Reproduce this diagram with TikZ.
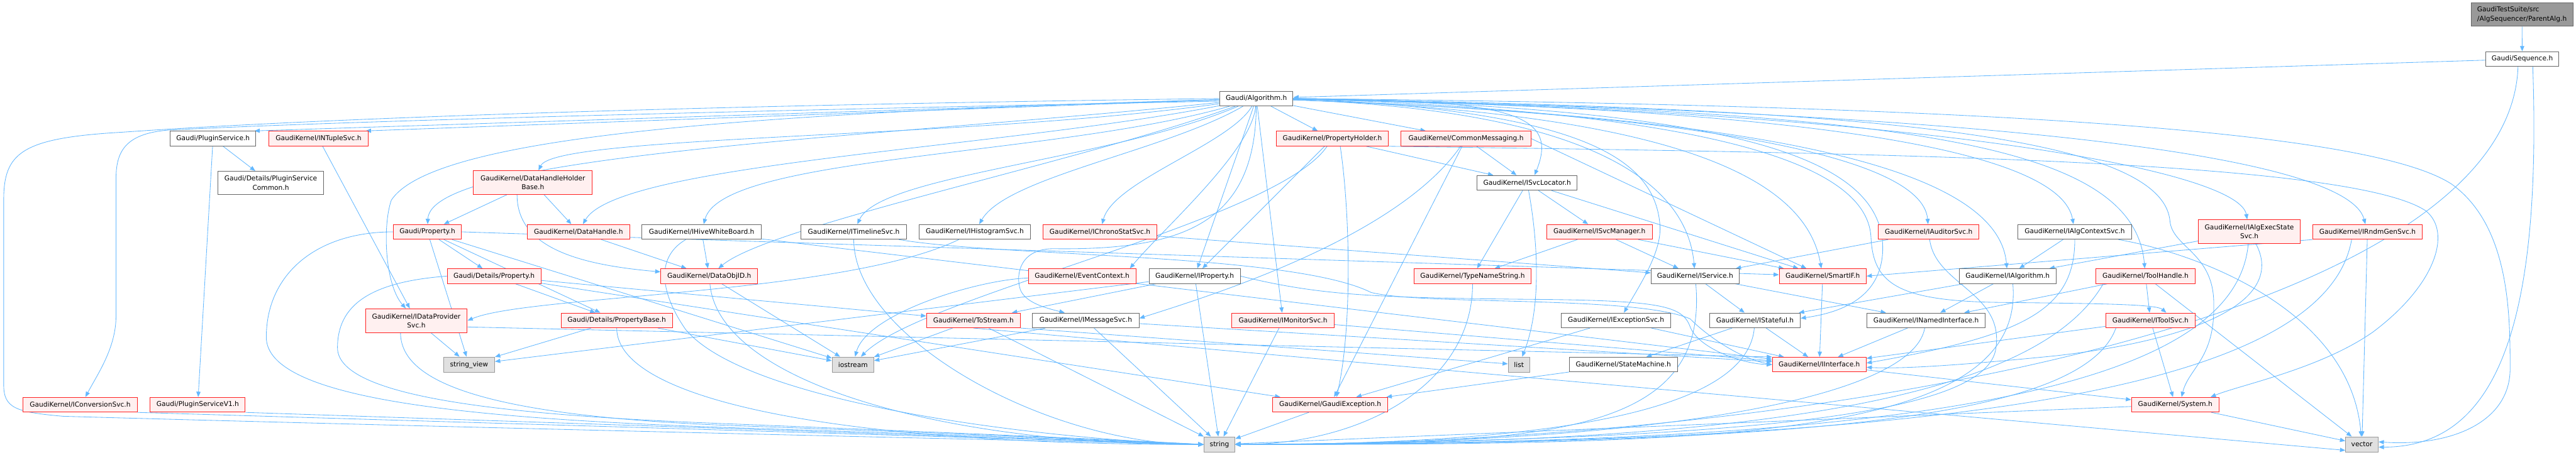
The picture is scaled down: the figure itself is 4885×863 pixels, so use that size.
\documentclass[tikz,border=0pt]{standalone}
\usepackage{fontspec}
\setmainfont{DejaVu Sans}
\usetikzlibrary{arrows.meta,backgrounds}
\definecolor{cEdge}{HTML}{63B8FF}
\definecolor{cRedB}{HTML}{FF2020}
\definecolor{cRedF}{HTML}{FFF0F0}
\definecolor{cGrayB}{HTML}{666666}
\definecolor{cLeafB}{HTML}{999999}
\definecolor{cLeafF}{HTML}{E0E0E0}
\definecolor{cRoot}{HTML}{999999}
\begin{document}
\begin{tikzpicture}[x=1pt,y=1pt,
  gbox/.style={rectangle,inner sep=0pt,minimum height=28pt,line width=1.2pt,font=\fontsize{12.7pt}{17pt}\selectfont,text=black},
  redbox/.style={gbox,draw=cRedB,fill=cRedF},
  whitebox/.style={gbox,draw=cGrayB,fill=white},
  leafbox/.style={gbox,draw=cLeafB,fill=cLeafF,minimum height=29pt},
  rootbox/.style={gbox,draw=cGrayB,fill=cRoot},
  inc/.style={draw=cEdge,line width=1pt,-{Triangle[length=10pt,width=8pt]}}]
\useasboundingbox (0,0) rectangle (4885,-863);
% ---------- nodes ----------
\node[rootbox,minimum width=193pt,minimum height=45pt,align=left] (parent) at (4782.5,-27.5) {GaudiTestSuite/src\\/AlgSequencer/ParentAlg.h};
\node[whitebox,minimum width=138pt] (seq) at (4783,-112) {Gaudi/Sequence.h};
\node[whitebox,minimum width=139pt] (alg) at (2382.5,-187) {Gaudi/Algorithm.h};
\node[whitebox,minimum width=162pt] (plugin) at (404,-263) {Gaudi/PluginService.h};
\node[redbox,minimum width=188pt] (ntuple) at (604,-263) {GaudiKernel/INTupleSvc.h};
\node[redbox,minimum width=213pt] (propholder) at (2526.5,-263) {GaudiKernel/PropertyHolder.h};
\node[redbox,minimum width=246pt] (commsg) at (2780,-263) {GaudiKernel/CommonMessaging.h};
\node[whitebox,minimum width=201pt,minimum height=44pt,align=center] (plugcommon) at (513.5,-347) {Gaudi/Details/PluginService\\Common.h};
\node[redbox,minimum width=225pt,minimum height=45pt,align=center] (dhhb) at (1010.5,-346.5) {GaudiKernel/DataHandleHolder\\Base.h};
\node[whitebox,minimum width=190pt] (svcloc) at (2896,-347) {GaudiKernel/ISvcLocator.h};
\node[redbox,minimum width=129pt] (gprop) at (810.5,-440) {Gaudi/Property.h};
\node[redbox,minimum width=194pt] (dhandle) at (1097,-440) {GaudiKernel/DataHandle.h};
\node[whitebox,minimum width=227pt] (hive) at (1330.5,-440) {GaudiKernel/IHiveWhiteBoard.h};
\node[whitebox,minimum width=200pt] (timeline) at (1619,-440) {GaudiKernel/ITimelineSvc.h};
\node[whitebox,minimum width=211pt] (histo) at (1848.5,-440) {GaudiKernel/IHistogramSvc.h};
\node[redbox,minimum width=216pt] (chrono) at (2086,-440) {GaudiKernel/IChronoStatSvc.h};
\node[redbox,minimum width=200pt] (svcmgr) at (3033,-440) {GaudiKernel/ISvcManager.h};
\node[redbox,minimum width=191pt] (auditor) at (3657.5,-440) {GaudiKernel/IAuditorSvc.h};
\node[whitebox,minimum width=215pt] (algctx) at (3934.5,-440) {GaudiKernel/IAlgContextSvc.h};
\node[redbox,minimum width=193pt,minimum height=45pt,align=center] (execst) at (4265.5,-439.5) {GaudiKernel/IAlgExecState\\Svc.h};
\node[redbox,minimum width=207pt] (rndm) at (4489.5,-440) {GaudiKernel/IRndmGenSvc.h};
\node[redbox,minimum width=178pt] (dprop) at (937,-524) {Gaudi/Details/Property.h};
\node[redbox,minimum width=184pt] (dobjid) at (1345,-524) {GaudiKernel/DataObjID.h};
\node[redbox,minimum width=204pt] (evctx) at (2052,-524) {GaudiKernel/EventContext.h};
\node[whitebox,minimum width=173pt] (iprop) at (2265.5,-524) {GaudiKernel/IProperty.h};
\node[redbox,minimum width=223pt] (tns) at (2792.5,-524) {GaudiKernel/TypeNameString.h};
\node[whitebox,minimum width=167pt] (isvc) at (3214.5,-524) {GaudiKernel/IService.h};
\node[redbox,minimum width=165pt] (smartif) at (3456.5,-524) {GaudiKernel/SmartIF.h};
\node[whitebox,minimum width=184pt] (ialg) at (3807,-524) {GaudiKernel/IAlgorithm.h};
\node[redbox,minimum width=189pt] (toolh) at (4068.5,-524) {GaudiKernel/ToolHandle.h};
\node[redbox,minimum width=193pt,minimum height=45pt,align=center] (dps) at (789.5,-608.5) {GaudiKernel/IDataProvider\\Svc.h};
\node[redbox,minimum width=211pt] (pbase) at (1169.5,-608) {Gaudi/Details/PropertyBase.h};
\node[redbox,minimum width=178pt] (tostream) at (1846,-608) {GaudiKernel/ToStream.h};
\node[whitebox,minimum width=202pt] (msgsvc) at (2059,-608) {GaudiKernel/IMessageSvc.h};
\node[redbox,minimum width=194pt] (monitor) at (2433,-608) {GaudiKernel/IMonitorSvc.h};
\node[whitebox,minimum width=207pt] (excsvc) at (3064.5,-608) {GaudiKernel/IExceptionSvc.h};
\node[whitebox,minimum width=172pt] (istateful) at (3328,-608) {GaudiKernel/IStateful.h};
\node[whitebox,minimum width=225pt] (inamed) at (3652.5,-608) {GaudiKernel/INamedInterface.h};
\node[redbox,minimum width=170pt] (itoolsvc) at (4078,-608) {GaudiKernel/IToolSvc.h};
\node[leafbox,minimum width=97pt] (sview) at (889.5,-692) {string\_view};
\node[leafbox,minimum width=79pt] (iostream) at (1617.5,-692) {iostream};
\node[leafbox,minimum width=41pt] (list) at (2880.5,-692) {list};
\node[whitebox,minimum width=205pt] (statem) at (3078.5,-692) {GaudiKernel/StateMachine.h};
\node[redbox,minimum width=178pt] (iinterface) at (3450,-692) {GaudiKernel/IInterface.h};
\node[redbox,minimum width=216pt] (convsvc) at (152,-768) {GaudiKernel/IConversionSvc.h};
\node[redbox,minimum width=180pt] (plugv1) at (375,-768) {Gaudi/PluginServiceV1.h};
\node[redbox,minimum width=219pt] (gexc) at (2522.5,-768) {GaudiKernel/GaudiException.h};
\node[redbox,minimum width=166pt] (system) at (4125,-768) {GaudiKernel/System.h};
\node[leafbox,minimum width=59pt] (string) at (2312.5,-843.5) {string};
\node[leafbox,minimum width=62pt] (vector) at (4479,-843.5) {vector};
% ---------- edges ----------
\begin{pgfonlayer}{background}
\fill[white] (0,0) rectangle (4885,-863);
\draw[inc] (parent) -- (seq);
\draw[inc] (seq) -- (alg);
\draw[inc] ([xshift=-8pt]seq.south) .. controls +(-92:480) and +(0:1100) .. (string.east);
\draw[inc] ([xshift=20pt]seq.south) .. controls +(-88:500) and +(0:220) .. ([yshift=-5pt]vector.east);
% Algorithm -> left
\draw[inc] (alg) -- ([xshift=-3pt]plugin.north east);
\draw[inc] (alg) -- ([xshift=-5pt]ntuple.north east);
\draw[inc] (alg.west) .. controls (1300,-200) and (600,-225) .. (230,-251) .. controls (40,-262) and (7,-290) .. (7,-380) -- (7,-730) .. controls (7,-775) and (30,-782) .. (120,-790) .. controls (900,-812) and (1900,-835) .. (string.west);
\draw[inc] ([yshift=-5pt]alg.west) .. controls (1300,-212) and (600,-232) .. (318,-247) .. controls (235,-254) and (220,-290) .. (220,-340) -- (220,-600) .. controls (220,-660) and (185,-710) .. ([xshift=10pt]convsvc.north);
\draw[inc] (alg) .. controls +(188:550) and +(65:100) .. (dhhb);
\draw[inc] (alg) .. controls +(186:700) and +(88:150) .. (gprop);
\draw[inc] (alg) .. controls (1400,-215) and (820,-260) .. (742,-380) .. controls (725,-430) and (730,-540) .. ([xshift=-20pt]dps.north);
\draw[inc] (alg) .. controls +(191:500) and +(60:150) .. (dhandle);
\draw[inc] (alg) .. controls +(196:400) and +(75:150) .. (hive);
\draw[inc] (alg) .. controls +(200:350) and +(40:150) .. (dobjid);
\draw[inc] (alg) .. controls +(203:300) and +(65:120) .. (timeline);
\draw[inc] (alg) .. controls +(210:200) and +(60:120) .. (histo);
\draw[inc] (alg) .. controls +(240:100) and +(75:100) .. (chrono);
\draw[inc] (alg) .. controls +(265:100) and +(50:100) .. ([xshift=-12pt]evctx.north east);
\draw[inc] (alg) .. controls (2380,-420) and (2250,-475) .. (2000,-472) .. controls (1935,-471) and (1925,-520) .. (1935,-550) .. controls (1945,-575) and (1985,-585) .. ([xshift=-40pt]msgsvc.north);
\draw[inc] (alg) -- (iprop);
\draw[inc] (alg) -- (monitor);
\draw[inc] (alg) -- (propholder);
\draw[inc] (alg) -- (commsg);
% Algorithm -> right
\draw[inc] (alg.east) .. controls (2850,-190) and (2960,-210) .. ([xshift=14pt]svcloc.north);
\draw[inc] (alg) .. controls +(-2:650) and +(95:170) .. (isvc);
\draw[inc] (alg) .. controls +(-2:850) and +(100:170) .. (smartif);
\draw[inc] (alg.east) .. controls (3300,-205) and (3580,-300) .. (3570,-480) .. controls (3565,-560) and (3500,-592) .. ([yshift=4pt]istateful.east);
\draw[inc] (alg.east) .. controls (3000,-210) and (3140,-300) .. (3148,-430) .. controls (3150,-480) and (3110,-540) .. ([xshift=15pt]excsvc.north);
\draw[inc] (alg) .. controls +(-2:800) and +(95:150) .. (auditor);
\draw[inc] (alg) .. controls +(-2:1000) and +(95:200) .. (ialg);
\draw[inc] (alg) .. controls +(-1:1100) and +(100:150) .. (algctx);
\draw[inc] (alg) .. controls +(-1:1250) and +(95:250) .. (toolh);
\draw[inc] (alg.east) .. controls (3200,-210) and (3540,-300) .. (3548,-450) .. controls (3552,-540) and (3600,-572) .. (3800,-574) .. controls (4000,-576) and (4090,-578) .. ([xshift=30pt]itoolsvc.north);
\draw[inc] (alg) .. controls +(-1:1250) and +(100:120) .. (execst);
\draw[inc] (alg) .. controls +(-1:1400) and +(105:150) .. (rndm);
\draw[inc] (alg.east) .. controls (3500,-205) and (4100,-250) .. (4115,-420) .. controls (4120,-470) and (4200,-480) .. (4198,-580) .. controls (4200,-680) and (4150,-700) .. ([xshift=12pt]system.north);
\draw[inc] (alg.east) .. controls (3800,-200) and (4500,-250) .. (4650,-350) .. controls (4760,-430) and (4760,-600) .. (4760,-700) .. controls (4760,-800) and (4650,-848) .. ([yshift=5pt]vector.east);
% left part
\draw[inc] (plugin) -- (plugcommon);
\draw[inc] (plugin) -- (plugv1);
\draw[inc] (plugv1.south east) -- (string.west);
\draw[inc] (convsvc.south east) -- (string.west);
\draw[inc] (ntuple) -- (dps);
\draw[inc] (dps) -- (sview);
\draw[inc] ([xshift=-30pt]dps.south) .. controls (760,-720) and (900,-790) .. (1400,-808) .. controls (1900,-826) and (2150,-837) .. (string.west);
\draw[inc] ([yshift=-12pt]dps.east) -- (iinterface.north west);
\draw[inc] (dhhb) -- (gprop);
\draw[inc] (dhhb) -- (dhandle);
\draw[inc] ([xshift=-30pt]dhhb.south) .. controls +(-90:100) and +(175:250) .. (dobjid);
\draw[inc] (gprop) -- (dprop);
\draw[inc] (gprop) -- (pbase);
\draw[inc] (gprop) -- (sview);
\draw[inc] (gprop) -- (iostream);
\draw[inc] (gprop.east) -- (smartif);
\draw[inc] (gprop.west) .. controls (600,-440) and (505,-520) .. (505,-640) .. controls (505,-760) and (900,-795) .. (1400,-812) .. controls (1900,-828) and (2150,-838) .. (string.west);
\draw[inc] (dprop) -- (pbase);
\draw[inc] (dprop) -- (tostream);
\draw[inc] (dprop) -- (gexc);
\draw[inc] (dprop.west) .. controls (700,-535) and (640,-580) .. (640,-660) .. controls (640,-760) and (1000,-790) .. (1400,-805) .. controls (1900,-825) and (2150,-836) .. (string.west);
\draw[inc] (pbase) -- (sview);
\draw[inc] (pbase) -- (iostream);
\draw[inc] (pbase) .. controls +(-90:150) and +(180:700) .. (string.west);
\draw[inc] (dhandle) -- (dobjid);
\draw[inc] (hive) -- (dobjid);
\draw[inc] (hive) -- (iinterface);
\draw[inc] ([xshift=-30pt]hive.south) .. controls (1240,-490) and (1255,-560) .. (1300,-625) .. controls (1420,-770) and (2000,-835) .. (string.west);
\draw[inc] (timeline) .. controls +(-90:200) and +(180:300) .. (string.west);
\draw[inc] (timeline) .. controls (1900,-488) and (2450,-480) .. (2600,-555) .. controls (2700,-580) and (3100,-560) .. (3205,-605) .. controls (3240,-640) and (3300,-680) .. (iinterface.west);
\draw[inc] (histo) .. controls (1600,-560) and (1000,-560) .. (dps.east);
\draw[inc] (chrono) -- (isvc);
\draw[inc] (dobjid) -- (iostream);
\draw[inc] (dobjid) .. controls +(-85:200) and +(180:500) .. (string.west);
\draw[inc] (evctx) .. controls +(182:200) and +(75:100) .. (iostream);
\draw[inc] (iprop) -- (tostream);
\draw[inc] (iprop) -- (sview);
\draw[inc] (iprop) -- (string);
\draw[inc] (iprop.east) .. controls (2500,-560) and (2600,-565) .. (2900,-568) .. controls (3150,-570) and (3190,-580) .. (3205,-620) .. controls (3220,-660) and (3300,-690) .. (iinterface.west);
\draw[inc] (tostream) -- (iostream);
\draw[inc] (tostream) -- (string);
\draw[inc] (tostream.south east) -- (list);
\draw[inc] (tostream.south) -- ([yshift=4pt]vector.south west);
\draw[inc] (msgsvc) -- (iostream);
\draw[inc] (msgsvc) -- (string);
\draw[inc] (msgsvc) -- (iinterface);
\draw[inc] (monitor) -- (string);
\draw[inc] (monitor) -- (iinterface);
% PropertyHolder / CommonMessaging / SvcLocator
\draw[inc] (propholder) -- (svcloc);
\draw[inc] (propholder) -- (iprop);
\draw[inc] ([xshift=15pt]propholder.south) .. controls (2560,-400) and (2565,-620) .. ([xshift=12pt]gexc.north);
\draw[inc] (propholder) .. controls (2420,-420) and (1750,-560) .. (iostream);
\draw[inc] (propholder.south east) .. controls (3500,-290) and (4450,-300) .. (4600,-400) .. controls (4650,-440) and (4620,-540) .. (4500,-630) .. controls (4400,-700) and (4250,-730) .. ([xshift=67pt]system.north);
\draw[inc] (commsg) -- (gexc);
\draw[inc] (commsg) .. controls (2650,-450) and (2300,-560) .. ([yshift=4pt]msgsvc.east);
\draw[inc] (commsg) -- (svcloc);
\draw[inc] (commsg.east) -- (smartif);
\draw[inc] (svcloc) -- (svcmgr);
\draw[inc] (svcloc) -- (tns);
\draw[inc] (svcloc) .. controls (2915,-450) and (2925,-580) .. (list);
\draw[inc] (svcloc) -- (smartif);
\draw[inc] (svcmgr) -- (tns);
\draw[inc] (svcmgr) -- (isvc);
\draw[inc] (svcmgr) -- (smartif);
\draw[inc] (tns) .. controls +(-90:200) and +(0:250) .. (string.east);
% right part
\draw[inc] (isvc) -- (istateful);
\draw[inc] (isvc) -- (inamed);
\draw[inc] (isvc) .. controls +(-85:300) and +(0:600) .. (string.east);
\draw[inc] (smartif) -- (iinterface);
\draw[inc] (ialg) -- (inamed);
\draw[inc] (ialg) -- (istateful);
\draw[inc] ([xshift=10pt]ialg.south) .. controls +(-85:300) and +(0:900) .. (string.east);
\draw[inc] (toolh) -- (itoolsvc);
\draw[inc] (toolh) -- (inamed);
\draw[inc] (toolh) -- (vector);
\draw[inc] ([xshift=15pt]toolh.south west) .. controls +(-120:250) and +(0:1000) .. (string.east);
\draw[inc] (istateful) -- (iinterface);
\draw[inc] (istateful) -- (statem);
\draw[inc] (istateful) .. controls +(-95:150) and +(0:700) .. (string.east);
\draw[inc] (inamed) -- (iinterface);
\draw[inc] (inamed) .. controls +(-100:150) and +(0:800) .. (string.east);
\draw[inc] (itoolsvc) -- (system);
\draw[inc] (itoolsvc) -- (iinterface);
\draw[inc] ([xshift=20pt]itoolsvc.south west) .. controls +(-110:180) and +(0:1100) .. (string.east);
\draw[inc] (excsvc) -- (gexc);
\draw[inc] (excsvc) -- (iinterface);
\draw[inc] (statem) -- (gexc);
\draw[inc] (iinterface) -- (system);
\draw[inc] (gexc) -- (string);
\draw[inc] (system) -- (string);
\draw[inc] (system) -- (vector);
\draw[inc] (auditor) -- (isvc);
\draw[inc] (auditor) .. controls (3670,-540) and (3800,-555) .. (3785,-660) .. controls (3770,-790) and (3300,-835) .. (string.east);
\draw[inc] (algctx) -- (ialg);
\draw[inc] (algctx) .. controls +(-90:150) and +(10:300) .. ([yshift=3pt]iinterface.east);
\draw[inc] (algctx) .. controls +(-10:250) and +(95:250) .. (vector);
\draw[inc] (execst) -- (ialg);
\draw[inc] (execst) .. controls (4330,-560) and (4200,-640) .. (3900,-675) .. controls (3700,-695) and (3600,-700) .. ([yshift=-5pt]iinterface.east);
\draw[inc] (execst) .. controls +(-95:320) and +(0:1200) .. (string.east);
\draw[inc] (rndm) -- (vector);
\draw[inc] (rndm.south west) -- (smartif.east);
\draw[inc] ([xshift=-30pt]rndm.south) .. controls +(-100:300) and +(0:1300) .. (string.east);
\end{pgfonlayer}
\end{tikzpicture}
\end{document}
